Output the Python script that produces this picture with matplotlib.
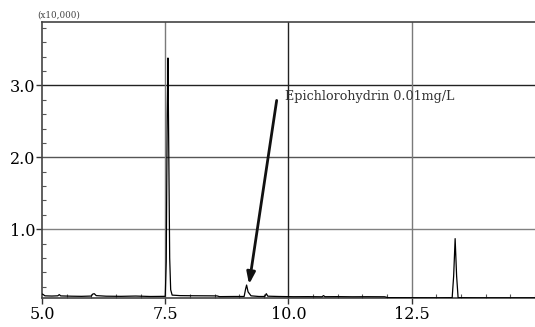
import matplotlib
matplotlib.use("Agg")
import matplotlib.pyplot as plt
from matplotlib.ticker import MultipleLocator, FixedLocator

# Retention time (min) and intensity (x10,000)
time = [5.00, 5.02, 5.06, 5.20, 5.32, 5.35, 5.38, 5.60, 5.80, 6.00, 6.03, 6.06, 6.10,
        6.30, 6.60, 6.90, 7.20, 7.50, 7.52, 7.54, 7.555, 7.57, 7.59, 7.61, 7.64,
        7.80, 8.10, 8.40, 8.55, 8.60, 8.90, 9.10, 9.13, 9.15, 9.18, 9.24, 9.40,
        9.52, 9.55, 9.58, 9.80, 10.10, 10.40, 10.68, 10.71, 10.74, 11.00, 11.30,
        11.60, 11.95, 12.02, 12.50, 13.00, 13.32, 13.35, 13.38, 13.41, 13.44,
        13.80, 14.40, 15.00]
intensity = [0.10, 0.095, 0.075, 0.072, 0.075, 0.092, 0.074, 0.070, 0.068, 0.072, 0.100,
             0.105, 0.078, 0.070, 0.068, 0.072, 0.066, 0.068, 0.55, 2.60, 3.38, 2.20,
             0.60, 0.16, 0.085, 0.078, 0.076, 0.075, 0.074, 0.064, 0.066, 0.066, 0.170,
             0.225, 0.130, 0.075, 0.066, 0.066, 0.105, 0.070, 0.066, 0.063, 0.064,
             0.062, 0.078, 0.063, 0.064, 0.062, 0.063, 0.062, 0.050, 0.049, 0.048,
             0.050, 0.35, 0.87, 0.35, 0.050, 0.048, 0.048, 0.048]

x_major = [5.0, 7.5, 10.0, 12.5]
x_labels = ["5.0", "7.5", "10.0", "12.5"]
y_major = [1.0, 2.0, 3.0]
y_labels = ["1.0", "2.0", "3.0"]

annot_text = "Epichlorohydrin 0.01mg/L"
scale_text = "(x10,000)"

plt.rcParams['font.family'] = ['DejaVu Serif']

fig = plt.figure(figsize=(5.35, 3.27), dpi=100)
ax = fig.add_axes([0.0785, 0.0887, 0.9215, 0.844])

ax.set_xlim(5.0, 15.0)
ax.set_ylim(0.045, 3.88)

# grid lines
grid_colors_y = {1.0: '#808080', 2.0: '#555555', 3.0: '#222222'}
grid_colors_x = {7.5: '#7a7a7a', 10.0: '#222222', 12.5: '#7a7a7a'}
for yv in y_major:
    ax.axhline(yv, color=grid_colors_y[yv], lw=1.0, zorder=1)
for xv in x_major[1:]:
    ax.axvline(xv, color=grid_colors_x[xv], lw=1.0, zorder=1)

ax.plot(time, intensity, color='black', lw=0.9, zorder=3)

ax.xaxis.set_major_locator(FixedLocator(x_major))
ax.set_xticklabels(x_labels)
ax.yaxis.set_major_locator(FixedLocator(y_major))
ax.set_yticklabels(y_labels)
ax.xaxis.set_minor_locator(MultipleLocator(0.5))
ax.yaxis.set_minor_locator(MultipleLocator(0.2))

ax.tick_params(axis='both', which='major', direction='out', length=4, width=1,
               labelsize=11.5, color='#333333', pad=2)
ax.tick_params(axis='both', which='minor', direction='in', length=3, width=0.8,
               color='#555555')
ax.tick_params(axis='y', which='major', pad=1)

for s in ['left', 'bottom', 'top']:
    ax.spines[s].set_color('#444444')
    ax.spines[s].set_linewidth(1.2)
ax.spines['right'].set_visible(False)

ax.annotate("", xy=(9.2, 0.235), xytext=(9.76, 2.79),
            arrowprops=dict(arrowstyle='-|>,head_length=0.7,head_width=0.25',
                            color='#111111', lw=2.0, shrinkA=0, shrinkB=0), zorder=4)
ax.text(9.93, 2.85, annot_text, fontsize=9.2, color='#333333', va='center', ha='left')

fig.text(37 / 535, 1 - 15 / 327, scale_text, fontsize=6.3, color='#444444',
         va='center', ha='left')

fig.savefig("out.png", dpi=100)
